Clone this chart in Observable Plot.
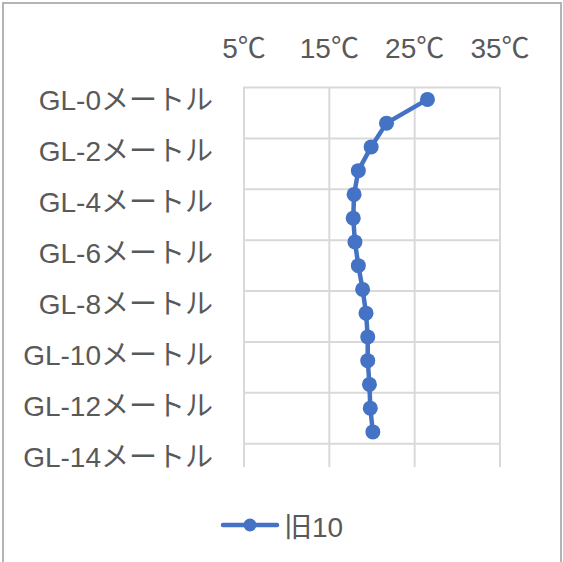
<!DOCTYPE html>
<html>
<head>
<meta charset="utf-8">
<script src="https://cdn.jsdelivr.net/npm/d3@7"></script>
<script src="https://cdn.jsdelivr.net/npm/@observablehq/plot@0.6"></script>
<style>
  html, body { margin: 0; padding: 0; background: #fff; }
  body { width: 563px; height: 562px; position: relative; overflow: hidden;
         font-family: "Liberation Sans", "Noto Sans CJK JP", sans-serif; }
  #frame { position: absolute; left: 2px; top: 2px; width: 560px; height: 570px;
           box-sizing: border-box; border: 2px solid #b4b4b4; }
  #chart { position: absolute; left: 0; top: 0; }
  #legend { position: absolute; left: 0; top: 505px; width: 563px; height: 40px;
            display: flex; justify-content: center; align-items: center;
            font-size: 28px; color: #595959; }
  #legend svg { margin-right: 4px; }
</style>
</head>
<body>
<div id="frame"></div>
<div id="chart"></div>
<div id="legend"></div>
<script>
// --- data ---
const seriesName = "旧10";
const depthIndex = [0, 1, 2, 3, 4, 5, 6, 7, 8, 9, 10, 11, 12, 13, 14];
const temps = [26.5, 21.7, 19.9, 18.4, 17.9, 17.8, 18.0, 18.4, 18.9, 19.3, 19.5, 19.5, 19.7, 19.8, 20.1];
const yLabels = ["GL-0メートル", "GL-2メートル", "GL-4メートル", "GL-6メートル",
                 "GL-8メートル", "GL-10メートル", "GL-12メートル", "GL-14メートル"];
const xTicks = [5, 15, 25, 35];

const data = depthIndex.map((d, i) => ({ depth: d + 0.5, temp: temps[i] }));
const yGrid = d3.range(yLabels.length).map(k => 15 * k / (yLabels.length - 1));

const blue = "#4472C4";
const grid = "#d9d9d9";
const textColor = "#595959";

const chart = Plot.plot({
  width: 563,
  height: 490,
  marginLeft: 243.5,
  marginRight: 63.5,
  marginTop: 87,
  marginBottom: 23,
  style: { fontFamily: '"Liberation Sans", "Noto Sans CJK JP", sans-serif', background: "transparent" },
  x: { domain: [5, 35], axis: null, label: null },
  y: { domain: [0, 16], reverse: true, axis: null, label: null },
  marks: [
    Plot.ruleX(xTicks, { x: d => d, y1: 0, y2: 16, stroke: grid, strokeWidth: 2 }),
    Plot.ruleY(yGrid, { y: d => d, x1: 5, x2: 35, stroke: grid, strokeWidth: 2 }),
    Plot.axisX(xTicks, {
      anchor: "top", tickSize: 0, tickPadding: 30, fontSize: 28, fill: textColor,
      tickFormat: d => d + "℃", label: null
    }),
    Plot.axisY(yGrid, {
      anchor: "left", tickSize: 0, tickPadding: 31, fontSize: 28, fill: textColor, dy: 14,
      tickFormat: (d, i) => yLabels[i], label: null
    }),
    Plot.line(data, { x: "temp", y: "depth", stroke: blue, strokeWidth: 4.5, strokeLinejoin: "round", strokeLinecap: "round" }),
    Plot.dot(data, { x: "temp", y: "depth", r: 7.5, fill: blue, stroke: "none" })
  ]
});
document.getElementById("chart").appendChild(chart);

// legend
const leg = document.getElementById("legend");
leg.innerHTML = `<svg width="60" height="20"><line x1="3" y1="10" x2="57" y2="10" stroke="${blue}" stroke-width="4.5" stroke-linecap="round"/><circle cx="30" cy="10" r="6.5" fill="${blue}"/></svg><span>${seriesName}</span>`;
</script>
</body>
</html>
